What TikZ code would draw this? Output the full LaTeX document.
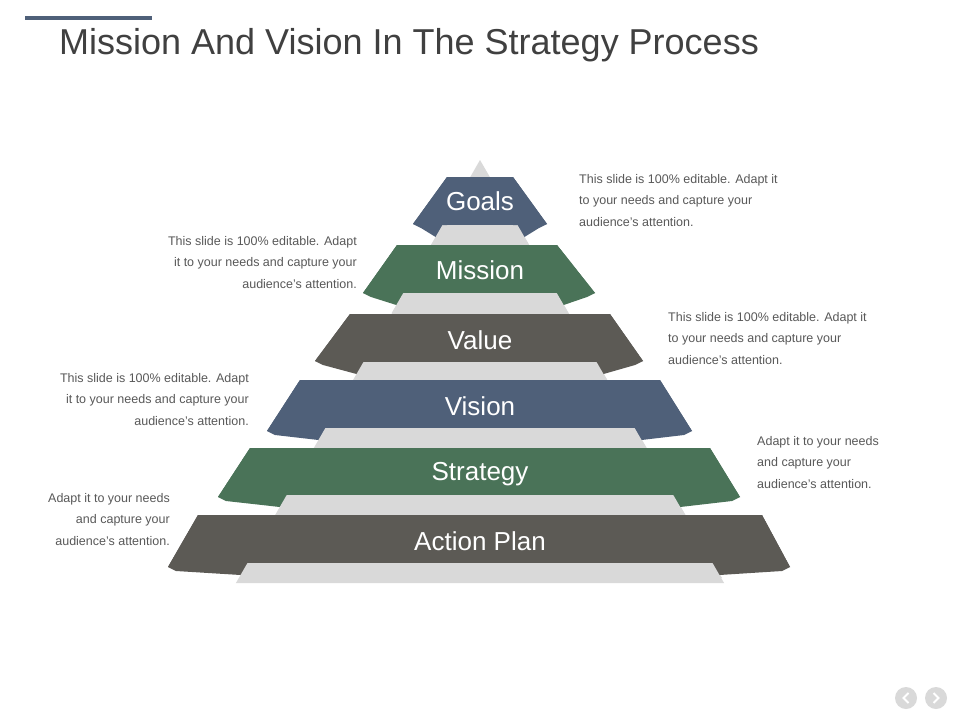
\documentclass[tikz,border=0pt]{standalone}
\usepackage{fontspec}
\setmainfont{Liberation Sans}
\definecolor{cblue}{HTML}{4F6079}
\definecolor{cgreen}{HTML}{4A7358}
\definecolor{cdark}{HTML}{5C5A55}
\definecolor{clight}{HTML}{D9D9D9}
\definecolor{ctext}{HTML}{595959}
\definecolor{ctitle}{HTML}{404040}
\tikzset{
 lbl/.style={text=white,font=\fontsize{26}{30}\selectfont,inner sep=0pt},
 desc/.style={text=ctext,font=\fontsize{12.5}{21.5}\selectfont,inner sep=0pt},
}
% band: tl x, tr x, top y, left tip x, right tip x, bottom y, tip y
\newcommand{\band}[8]{%
 \fill[#8] (#1,#3) -- (#2,#3) -- (#5,#7) -- ({480+0.577*(#7+12-160)},{#7+12}) -- ({480-0.577*(#7+12-160)},{#7+12}) -- (#4,#7) -- cycle;
 \fill[clight] (480,160) -- ({480+0.577*(#6-160)},#6) -- ({480+0.577*(#7+14-160)},{#7+14}) -- ({480-0.577*(#7+14-160)},{#7+14}) -- ({480-0.577*(#6-160)},#6) -- cycle;
}
\begin{document}
\begin{tikzpicture}[x=1pt,y=-1pt]
\useasboundingbox (0,0) rectangle (960,720);
\fill[white] (0,0) rectangle (960,720);
\fill[cblue] (25,16) rectangle (152,20);
\node[anchor=west,text=ctitle,font=\fontsize{36}{40}\selectfont,inner sep=0pt] (title) at (59,45) {Mission And Vision In The Strategy Process};
% gray pyramid
\fill[clight] (480,160) -- (722,578) -- (240,578) -- cycle;
% bands (wings drawn, then gray over inner part)
\newcommand{\bandb}[8]{%
 \fill[#8] (#1,#3) -- (#2,#3) -- (#5,#7) -- (#5,{#7+16}) -- (#4,{#7+16}) -- (#4,#7) -- cycle;
 \fill[clight] ({480-0.577*(#6-160)},#6) -- ({480+0.577*(#6-160)},#6) -- ({480+0.577*(#7+16-160)},{#7+16}) -- ({480-0.577*(#7+16-160)},{#7+16}) -- cycle;
 \fill[#8] (#1,#3) -- (#2,#3) -- (#5,#7) -- ({480+0.577*(#6-160)},#6) -- ({480-0.577*(#6-160)},#6) -- (#4,#7) -- cycle;
}
\begin{scope}
\clip (0,0) rectangle (960,720);
\foreach \a/\b/\t/\lx/\rx/\bo/\tp/\c in {
 447/513/177/413/547/225/224/cblue,
 397/557/245/363/595/293/293/cgreen,
 350/610/314/315/643/362/361/cdark,
 300/660/380/267/692/428/431/cblue,
 250/710/448/218/740/495/497/cgreen,
 198/762/515/168/790/563/567/cdark}{
 \fill[\c] (\a,\t) -- (\b,\t) -- (\rx,\tp) -- ({\rx-8},{\tp+4}) -- ({480+0.577*(\bo+12-160)},{\bo+12}) -- ({480-0.577*(\bo+12-160)},{\bo+12}) -- ({\lx+8},{\tp+4}) -- (\lx,\tp) -- cycle;
 \fill[clight] ({480-0.577*(\bo-160)},\bo) -- ({480+0.577*(\bo-160)},\bo) -- ({480+0.577*(\bo+20-160)},{\bo+20}) -- ({480-0.577*(\bo+20-160)},{\bo+20}) -- cycle;
 \fill[\c] (\a,\t) rectangle (\b,\bo);
 \fill[\c] (\a,\t) -- (\lx,\tp) -- ({480-0.577*(\bo-160)},\bo) -- (\a,\bo) -- cycle;
 \fill[\c] (\b,\t) -- (\rx,\tp) -- ({480+0.577*(\bo-160)},\bo) -- (\b,\bo) -- cycle;
}
\end{scope}
\node[lbl] (goals) at (480,201) {Goals};
\node[lbl] (mission) at (480,270) {Mission};
\node[lbl] (value) at (480,340) {Value};
\node[lbl] (vision) at (480,406) {Vision};
\node[lbl] (strategy) at (480,474) {Strategy};
\node[lbl] (action) at (480,541) {Action Plan};
\node[desc,anchor=north west,align=left] (d1) at (579,174) {This slide is 100\% editable. Adapt it\\to your needs and capture your\\audience's attention.};
\node[desc,anchor=north east,align=right] (d2) at (357,236) {This slide is 100\% editable. Adapt\\it to your needs and capture your\\audience's attention.};
\node[desc,anchor=north west,align=left] (d3) at (668,312) {This slide is 100\% editable. Adapt it\\to your needs and capture your\\audience's attention.};
\node[desc,anchor=north east,align=right] (d4) at (249,373) {This slide is 100\% editable. Adapt\\it to your needs and capture your\\audience's attention.};
\node[desc,anchor=north west,align=left] (d5) at (757,436) {Adapt it to your needs\\and capture your\\audience's attention.};
\node[desc,anchor=north east,align=right] (d6) at (170,493) {Adapt it to your needs\\and capture your\\audience's attention.};
% nav buttons
\node[circle,fill=clight,minimum size=22pt,inner sep=0pt] (prev) at (906,698) {};
\node[circle,fill=clight,minimum size=22pt,inner sep=0pt] (next) at (936,698) {};
\draw[white,line width=2pt] ([xshift=2.5pt,yshift=-5pt]prev.center) -- ([xshift=-2.5pt]prev.center) -- ([xshift=2.5pt,yshift=5pt]prev.center);
\draw[white,line width=2pt] ([xshift=-2.5pt,yshift=-5pt]next.center) -- ([xshift=2.5pt]next.center) -- ([xshift=-2.5pt,yshift=5pt]next.center);
\end{tikzpicture}
\end{document}
